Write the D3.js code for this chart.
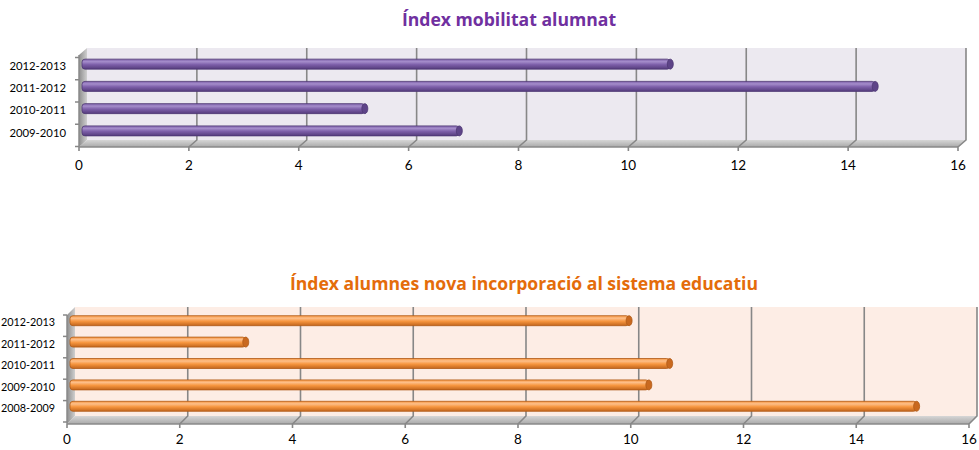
<!DOCTYPE html>
<html><head><meta charset="utf-8">
<script src="https://cdn.jsdelivr.net/npm/d3@7"></script>
<style>
html,body{margin:0;padding:0;background:#fff;}
svg{display:block;}
text{font-family:Lato,"Open Sans",sans-serif;}
</style></head>
<body>
<svg id="chart" width="979" height="450"></svg>
<script>
// ---- data ----
const title1 = "Índex mobilitat alumnat";
const categories1 = ["2009-2010", "2010-2011", "2011-2012", "2012-2013"];
const values1 = [6.85, 5.13, 14.42, 10.69];

const title2 = "Índex alumnes nova incorporació al sistema educatiu";
const categories2 = ["2008-2009", "2009-2010", "2010-2011", "2011-2012", "2012-2013"];
const values2 = [15.0, 10.25, 10.62, 3.1, 9.9];

const xTicks = [0, 2, 4, 6, 8, 10, 12, 14, 16];
const xDomain = [0, 16];

// ---- layout / style ----
const charts = [
  {title: title1, categories: categories1, values: values1,
   titleX: 509, titleY: 26, titleColor: "#7030A0",
   xRange: [79, 958], dx: 8, dy: -7, top: 48, floor: 140, band: [53, 142],
   labelX: 66, labelSize: 11.3, tickLabelY: 170,
   wall: "#ECE9F0", barTop: "#A58DCB", barMid: "#7D5FA9", barBot: "#553C7C", barEdge: "#4E3773", cap: "#5E4488"},
  {title: title2, categories: categories2, values: values2,
   titleX: 524, titleY: 290, titleColor: "#E46C0A",
   xRange: [67, 969], dx: 8, dy: -8, top: 307, floor: 416, band: [310, 417],
   labelX: 55, labelSize: 10.8, tickLabelY: 444,
   wall: "#FDEDE5", barTop: "#FDBF8A", barMid: "#F7963F", barBot: "#C2651C", barEdge: "#B05A17", cap: "#C9691F"}
];

const svg = d3.select("#chart");
const defs = svg.append("defs");

charts.forEach((c, i) => {
  const g = svg.append("g");
  const x = d3.scaleLinear().domain(xDomain).range(c.xRange);
  const yCats = c.categories.slice().reverse();
  const y = d3.scaleBand().domain(yCats).range(c.band).padding(0);
  const frontFloor = c.floor - c.dy;
  const bx = v => x(v) + c.dx;

  // gradients
  const gBar = defs.append("linearGradient").attr("id", "bar" + i)
    .attr("x1", 0).attr("y1", 0).attr("x2", 0).attr("y2", 1);
  gBar.append("stop").attr("offset", "0%").attr("stop-color", c.barMid);
  gBar.append("stop").attr("offset", "25%").attr("stop-color", c.barTop);
  gBar.append("stop").attr("offset", "55%").attr("stop-color", c.barMid);
  gBar.append("stop").attr("offset", "100%").attr("stop-color", c.barBot);

  const gFloor = defs.append("linearGradient").attr("id", "floor" + i)
    .attr("x1", 0).attr("y1", 0).attr("x2", 0).attr("y2", 1);
  gFloor.append("stop").attr("offset", "0%").attr("stop-color", "#D6D6D6");
  gFloor.append("stop").attr("offset", "100%").attr("stop-color", "#A9A9A9");

  const gWall = defs.append("linearGradient").attr("id", "lwall" + i)
    .attr("x1", 0).attr("y1", 0).attr("x2", 1).attr("y2", 0);
  gWall.append("stop").attr("offset", "0%").attr("stop-color", "#8E8E8E");
  gWall.append("stop").attr("offset", "100%").attr("stop-color", "#CFCFCF");

  // back wall
  g.append("rect").attr("x", bx(xDomain[0])).attr("y", c.top)
    .attr("width", bx(xDomain[1]) - bx(xDomain[0])).attr("height", c.floor - c.top)
    .attr("fill", c.wall);

  // floor
  g.append("path").attr("d", d3.line()([
    [bx(xDomain[0]), c.floor], [bx(xDomain[1]), c.floor],
    [x(xDomain[1]), frontFloor], [x(xDomain[0]), frontFloor]
  ]) + "Z").attr("fill", "url(#floor" + i + ")");
  g.append("line").attr("x1", x(xDomain[0])).attr("x2", x(xDomain[1]))
    .attr("y1", frontFloor).attr("y2", frontFloor)
    .attr("stroke", "#8A8A8A").attr("stroke-width", 1.5);

  // left wall
  g.append("path").attr("d", d3.line()([
    [x(xDomain[0]), c.top - c.dy], [bx(xDomain[0]), c.top],
    [bx(xDomain[0]), c.floor], [x(xDomain[0]), frontFloor]
  ]) + "Z").attr("fill", "url(#lwall" + i + ")");
  g.append("line").attr("x1", x(xDomain[0])).attr("x2", x(xDomain[0]))
    .attr("y1", c.top - c.dy).attr("y2", frontFloor)
    .attr("stroke", "#8A8A8A").attr("stroke-width", 1.5);

  // gridlines (back wall + floor diagonal + tick)
  xTicks.forEach(t => {
    if (t > xDomain[0]) {
      g.append("path").attr("d", d3.line()([
        [bx(t), c.top], [bx(t), c.floor], [x(t), frontFloor], [x(t), frontFloor + 4]
      ])).attr("fill", "none").attr("stroke", "#878787").attr("stroke-width", 1.6);
    } else {
      g.append("line").attr("x1", x(t)).attr("x2", x(t))
        .attr("y1", frontFloor).attr("y2", frontFloor + 4)
        .attr("stroke", "#878787").attr("stroke-width", 1.6);
    }
  });

  // category ticks on left wall edge
  const bounds = yCats.map(d => y(d)).concat([c.band[1]]);
  bounds.forEach(b => {
    g.append("line").attr("x1", x(xDomain[0]) - 4).attr("x2", x(xDomain[0]))
      .attr("y1", b - c.dy / 2 + 1).attr("y2", b - c.dy / 2 + 1)
      .attr("stroke", "#878787").attr("stroke-width", 1.5);
  });

  // bars (cylinders)
  const h = 10;
  const mid = v => x(v) + c.dx / 2;
  c.categories.forEach((cat, k) => {
    const v = c.values[k];
    const cy = y(cat) + y.bandwidth() / 2;
    const x0 = mid(0), x1 = mid(v);
    g.append("rect").attr("x", x0 - 1).attr("y", cy - h / 2)
      .attr("width", x1 - x0 + 1).attr("height", h)
      .attr("rx", 3).attr("fill", "url(#bar" + i + ")")
      .attr("stroke", c.barEdge).attr("stroke-width", 0.8);
    g.append("ellipse").attr("cx", x1).attr("cy", cy)
      .attr("rx", 3).attr("ry", h / 2)
      .attr("fill", c.cap).attr("stroke", c.barEdge).attr("stroke-width", 0.8);
  });

  // category labels
  c.categories.forEach(cat => {
    g.append("text").attr("x", c.labelX).attr("y", y(cat) + y.bandwidth() / 2 + 3)
      .attr("text-anchor", "end").attr("dominant-baseline", "middle")
      .attr("font-size", c.labelSize).attr("fill", "#000").text(cat);
  });

  // x tick labels
  xTicks.forEach(t => {
    g.append("text").attr("x", x(t)).attr("y", c.tickLabelY)
      .attr("text-anchor", "middle").attr("font-size", 13.5).attr("fill", "#000").text(t);
  });

  // title
  g.append("text").attr("x", c.titleX).attr("y", c.titleY)
    .attr("text-anchor", "middle").attr("font-size", 17.6).attr("font-weight", "bold")
    .style("font-family", "'Open Sans', sans-serif")
    .attr("fill", c.titleColor).text(c.title);
});
</script>
</body></html>
